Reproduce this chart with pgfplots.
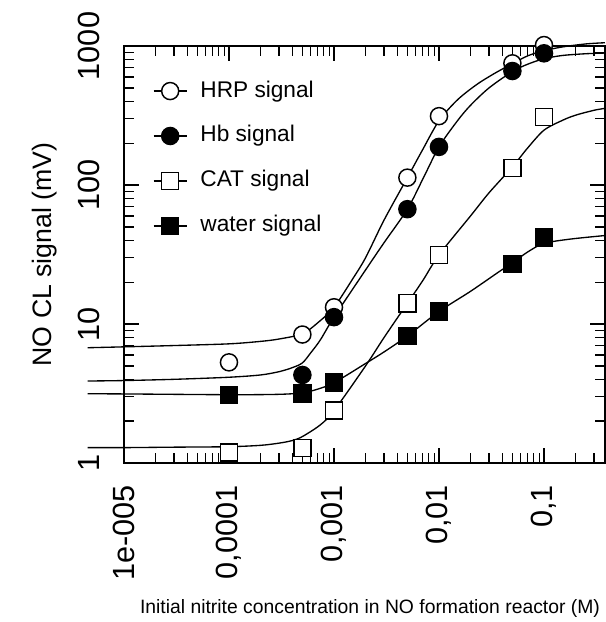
\documentclass[border=0pt]{standalone}
\usepackage{fontspec}
\setmainfont{Liberation Sans}
\usepackage{pgfplots}
\pgfplotsset{compat=1.18}
\begin{document}
\begin{tikzpicture}
\path[use as bounding box] (-93pt,-119.25pt) rectangle (361.5pt,347.25pt);
\begin{axis}[
  xmode=log, ymode=log,
  scale only axis, width=360.75pt, height=312.75pt,
  xmin=1e-5, xmax=0.381, ymin=1, ymax=1000,
  clip=false,
  axis line style={line width=1.3pt},
  every tick/.style={black, line width=1pt},
  major tick length=11.25pt, minor tick length=7.5pt,
  tick align=inside,
  xtick={1e-5,1e-4,1e-3,1e-2,1e-1},
  xticklabels={1e-005,{0,0001},{0,001},{0,01},{0,1}},
  minor xtick={2e-5,3e-5,4e-5,5e-5,6e-5,7e-5,8e-5,9e-5,
               2e-4,3e-4,4e-4,5e-4,6e-4,7e-4,8e-4,9e-4,
               2e-3,3e-3,4e-3,5e-3,6e-3,7e-3,8e-3,9e-3,
               0.02,0.03,0.04,0.05,0.06,0.07,0.08,0.09,0.2,0.3},
  ytick={1,10,100,1000}, yticklabels={1,10,100,1000},
  minor ytick={2,3,4,5,6,7,8,9,20,30,40,50,60,70,80,90,200,300,400,500,600,700,800,900},
  xticklabel style={rotate=90, anchor=east, inner sep=0pt, font=\fontsize{23}{23}\selectfont},
  yticklabel style={rotate=90, anchor=south, inner sep=0pt, font=\fontsize{23}{23}\selectfont},
  xticklabel shift=16.5pt, yticklabel shift=18pt,
  legend style={draw=none, fill=none, at={(rel axis cs:0.0603,0.9177)}, anchor=north west,
    inner sep=0pt, outer sep=0pt, row sep=17.6pt, column sep=9.75pt,
    font=\fontsize{17}{17}\selectfont,
    nodes={inner sep=0pt, text height=12.5pt, text depth=3.6pt}},
  legend cell align=left,
  legend image code/.code={\draw[mark repeat=2,mark phase=2,#1] plot coordinates {(0pt,0pt) (12.4pt,0pt) (24.8pt,0pt)};},
]
% legend entries
\addlegendimage{black, line width=1pt, mark=*, mark size=6.4pt, mark options={fill=white, draw=black, line width=1.1pt}}
\addlegendentry{HRP signal}
\addlegendimage{black, line width=1pt, mark=*, mark size=6.4pt, mark options={fill=black, draw=black, line width=1.1pt}}
\addlegendentry{Hb signal}
\addlegendimage{black, line width=1pt, mark=square*, mark size=6.4pt, mark options={fill=white, draw=black, line width=1.1pt}}
\addlegendentry{CAT signal}
\addlegendimage{black, line width=1pt, mark=square*, mark size=6.4pt, mark options={fill=black, draw=black, line width=1.1pt}}
\addlegendentry{water signal}

% fitted curves
\addplot[black, line width=1pt, smooth, forget plot] coordinates {
 (4.5e-6,6.75) (1e-5,6.85) (3e-5,7.0) (1e-4,7.2) (2e-4,7.5) (3e-4,7.8) (5e-4,8.5) (7e-4,10.2)
 (1e-3,13.2) (1.5e-3,21) (2e-3,30) (3e-3,56) (5e-3,113) (7e-3,180) (1e-2,290) (1.5e-2,410)
 (2.3e-2,530) (3.5e-2,645) (5e-2,745) (7e-2,850) (0.1,925) (0.15,985) (0.25,1035) (0.381,1056)};
\addplot[black, line width=1pt, smooth, forget plot] coordinates {
 (4.5e-6,3.89) (1e-5,3.92) (3e-5,4.0) (1e-4,4.14) (2e-4,4.3) (3e-4,4.54) (4e-4,4.85) (5e-4,5.25)
 (6e-4,6.2) (7.4e-4,7.67) (1e-3,11.2) (2e-3,24.5) (3e-3,38.5) (5e-3,67) (7e-3,110) (1e-2,188)
 (1.5e-2,290) (2e-2,375) (3e-2,500) (5e-2,655) (7e-2,740) (0.1,810) (0.15,855) (0.25,880) (0.381,890)};
\addplot[black, line width=1pt, smooth, forget plot] coordinates {
 (4.5e-6,1.29) (1e-5,1.29) (3e-5,1.30) (1e-4,1.31) (2e-4,1.34) (3e-4,1.39) (4e-4,1.45) (5e-4,1.55)
 (7.4e-4,1.88) (1e-3,2.38) (2e-3,5.0) (3e-3,8.0) (5e-3,14.1) (7e-3,20.5) (1e-2,31.4) (2e-2,60)
 (3e-2,88) (5e-2,135) (7e-2,185) (0.1,248) (0.15,292) (0.2,318) (0.3,345) (0.381,356)};
\addplot[black, line width=1pt, smooth, forget plot] coordinates {
 (4.5e-6,3.15) (1e-5,3.14) (1e-4,3.10) (3e-4,3.12) (5e-4,3.2) (7e-4,3.4) (1e-3,3.78) (2e-3,5.2)
 (3e-3,6.3) (5e-3,8.2) (1e-2,12.3) (2e-2,17.2) (3.8e-2,24) (5e-2,27.5) (7e-2,33) (0.1,38)
 (0.177,40.8) (0.381,43.3)};

% data markers
\addplot[only marks, mark=*, mark size=6.4pt, mark options={fill=white, draw=black, line width=1.1pt}, forget plot] coordinates {
 (1e-4,5.3) (5e-4,8.4) (1e-3,13.2) (5e-3,113) (1e-2,313) (5e-2,751) (0.1,1016)};
\addplot[only marks, mark=*, mark size=6.4pt, mark options={fill=black, draw=black, line width=1.1pt}, forget plot] coordinates {
 (5e-4,4.3) (1e-3,11.2) (5e-3,67) (1e-2,188) (5e-2,661) (0.1,886)};
\addplot[only marks, mark=square*, mark size=6.4pt, mark options={fill=white, draw=black, line width=1.1pt}, forget plot] coordinates {
 (1e-4,1.19) (5e-4,1.28) (1e-3,2.38) (5e-3,14.1) (1e-2,31.4) (5e-2,133) (0.1,308)};
\addplot[only marks, mark=square*, mark size=6.4pt, mark options={fill=black, draw=black, line width=1.1pt}, forget plot] coordinates {
 (1e-4,3.08) (5e-4,3.17) (1e-3,3.78) (5e-3,8.2) (1e-2,12.3) (5e-2,27.1) (0.1,42)};
\end{axis}
\node[rotate=90, font=\fontsize{20}{20}\selectfont] at (-59.25pt,156.4pt) {NO CL signal (mV)};
\node[font=\fontsize{14.5}{14.5}\selectfont] at (184.5pt,-108.75pt) {Initial nitrite concentration in NO formation reactor (M)};
\end{tikzpicture}
\end{document}
